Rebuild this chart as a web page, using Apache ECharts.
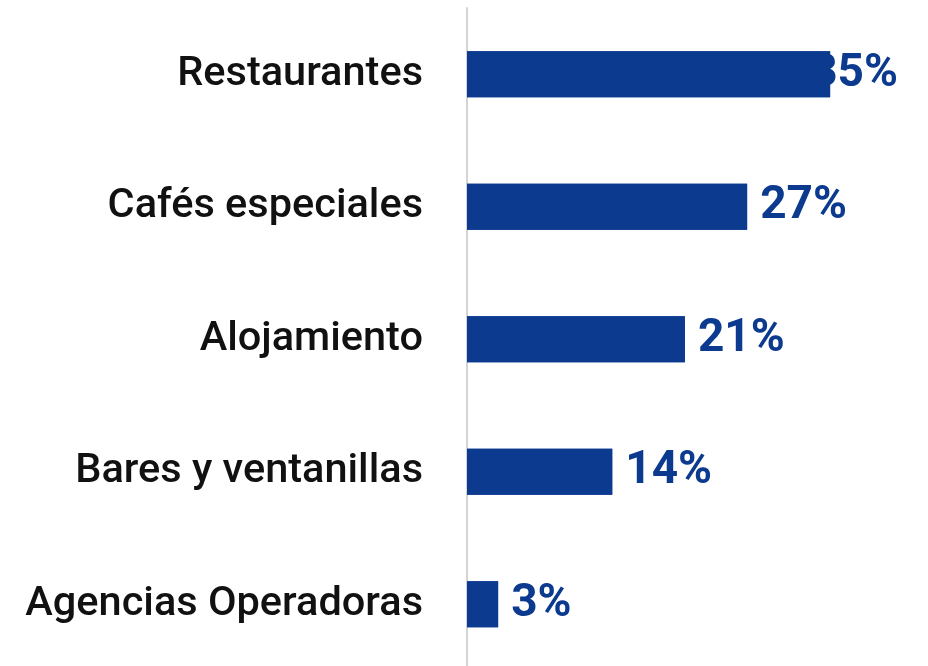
<!DOCTYPE html>
<html>
<head>
<meta charset="utf-8">
<style>
  html, body { margin: 0; padding: 0; background: #ffffff; }
  #chart { width: 928px; height: 666px; }
</style>
<script src="https://cdn.jsdelivr.net/npm/echarts@6/dist/echarts.min.js"></script>
</head>
<body>
<div id="chart"></div>
<script>
// Share of businesses by type (percent)
const categories = ['Restaurantes', 'Cafés especiales', 'Alojamiento', 'Bares y ventanillas', 'Agencias Operadoras'];
const shares = [35, 27, 21, 14, 3];

const BLUE = '#0b3a8f';

const chart = echarts.init(document.getElementById('chart'));

// Labelled bars; the first label sits a little to the left so it tucks under its bar end
const labelled = shares.map((v, i) => i === 0
  ? { value: v, label: { offset: [-32, 0] } }
  : v);

chart.setOption({
  animation: false,
  grid: {
    left: 467, right: 46, top: 8, bottom: -4.5,
    containLabel: false,
    outerBoundsMode: 'none'
  },
  xAxis: {
    type: 'value',
    min: 0,
    max: 40,
    show: false
  },
  yAxis: {
    type: 'category',
    data: categories,
    inverse: true,
    axisLine: { show: true, lineStyle: { color: '#d4d4d4', width: 2 } },
    axisTick: { show: false },
    axisLabel: {
      margin: 44,
      fontFamily: 'Roboto',
      fontWeight: 500,
      fontSize: 41.5,
      color: '#111111'
    }
  },
  series: [
    {
      type: 'bar',
      data: labelled,
      barWidth: 46,
      z: 2,
      itemStyle: { color: BLUE },
      label: {
        show: true,
        position: 'right',
        distance: 13,
        formatter: '{c}%',
        fontFamily: 'Roboto',
        fontWeight: 'bold',
        fontSize: 46,
        color: BLUE
      }
    },
    {
      // same bars drawn again on top so the bar body covers any label it overlaps
      type: 'bar',
      data: shares,
      barWidth: 46,
      barGap: '-100%',
      z: 5,
      silent: true,
      itemStyle: { color: BLUE },
      label: { show: false }
    }
  ]
});
</script>
</body>
</html>
